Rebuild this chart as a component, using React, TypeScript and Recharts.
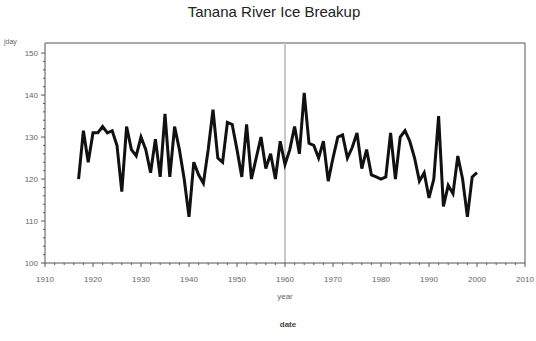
import React from "react";
import {
  LineChart,
  Line,
  XAxis,
  YAxis,
  ReferenceLine,
} from "recharts";

// Julian day of ice breakup, Tanana River at Nenana
const years = [
  1917, 1918, 1919, 1920, 1921, 1922, 1923, 1924, 1925, 1926,
  1927, 1928, 1929, 1930, 1931, 1932, 1933, 1934, 1935, 1936,
  1937, 1938, 1939, 1940, 1941, 1942, 1943, 1944, 1945, 1946,
  1947, 1948, 1949, 1950, 1951, 1952, 1953, 1954, 1955, 1956,
  1957, 1958, 1959, 1960, 1961, 1962, 1963, 1964, 1965, 1966,
  1967, 1968, 1969, 1970, 1971, 1972, 1973, 1974, 1975, 1976,
  1977, 1978, 1979, 1980, 1981, 1982, 1983, 1984, 1985, 1986,
  1987, 1988, 1989, 1990, 1991, 1992, 1993, 1994, 1995, 1996,
  1997, 1998, 1999, 2000,
];
const breakupDay = [
  120, 131.5, 124, 131, 131, 132.5, 131, 131.5, 128, 117,
  132.5, 127, 125.5, 130, 127, 121.5, 129.5, 120.5, 135.5, 120.5,
  132.5, 127, 120, 111, 124, 121, 119, 127, 136.5, 125,
  124, 133.5, 133, 127, 120.5, 133, 120, 125, 130, 122.5,
  126, 120, 129, 123.5, 127, 132.5, 126, 140.5, 128.5, 128,
  125, 129, 119.5, 125, 130, 130.5, 125, 127.5, 131, 122.5,
  127, 121, 120.5, 120, 120.5, 131, 120, 130, 131.5, 129,
  125, 119.5, 121.5, 115.5, 120, 135, 113.5, 118.5, 116.5, 125.5,
  120, 111, 120.5, 121.5,
];
const xTicks = Array.from({ length: 51 }, (_, i) => 1910 + i * 2);
const yTicks = Array.from({ length: 26 }, (_, i) => 100 + i * 2);

const data = years.map((year, i) => ({ year, day: breakupDay[i] }));

const font = "'Liberation Sans', Arial, sans-serif";
const axisColor = "#555";
const yMax = 152.4;

const XTick = (props: any) => {
  const { x, y, payload } = props;
  const major = payload.value % 10 === 0;
  return (
    <g>
      <line x1={x} y1={y} x2={x} y2={y + (major ? 4 : 2)} stroke={axisColor} strokeWidth={1} />
      {major && (
        <text x={x} y={y + 19} textAnchor="middle" fontSize={8} fill="#666" fontFamily={font}>
          {payload.value}
        </text>
      )}
    </g>
  );
};

const YTick = (props: any) => {
  const { x, y, payload } = props;
  const major = payload.value % 10 === 0;
  return (
    <g>
      <line x1={x} y1={y} x2={x - (major ? 4 : 2)} y2={y} stroke={axisColor} strokeWidth={1} />
      {major && (
        <text x={x - 7} y={y + 3} textAnchor="end" fontSize={8} fill="#666" fontFamily={font}>
          {payload.value}
        </text>
      )}
    </g>
  );
};

export default function App() {
  return (
    <div style={{ position: "absolute", left: 0, top: 0, width: 536, height: 341, background: "#fff" }}>
      <div
        style={{
          position: "absolute",
          top: 3,
          left: 0,
          width: 548,
          textAlign: "center",
          fontFamily: font,
          fontSize: 15,
          color: "#222",
        }}
      >
        Tanana River Ice Breakup
      </div>
      <LineChart
        width={536}
        height={341}
        data={data}
        margin={{ top: 43, right: 11, bottom: 48, left: 0 }}
      >
        <XAxis
          dataKey="year"
          type="number"
          domain={[1910, 2010]}
          ticks={xTicks}
          interval={0}
          tick={<XTick />}
          tickLine={false}
          tickSize={0}
          tickMargin={0}
          height={30}
          stroke={axisColor}
          label={{
            value: "year",
            position: "insideBottom",
            offset: -6,
            fontSize: 8,
            fill: "#666",
            fontFamily: font,
          }}
        />
        <YAxis
          type="number"
          domain={[100, yMax]}
          ticks={yTicks}
          interval={0}
          tick={<YTick />}
          tickLine={false}
          tickSize={0}
          tickMargin={0}
          width={45}
          stroke={axisColor}
          label={{
            content: () => (
              <text x={4} y={44} fontSize={7} fill="#666" fontFamily={font}>
                jday
              </text>
            ),
          }}
        />
        {/* frame: top and right edges */}
        <ReferenceLine y={yMax} stroke={axisColor} strokeWidth={1} />
        <ReferenceLine x={2010} stroke={axisColor} strokeWidth={1} />
        <ReferenceLine x={1960} stroke="#c8c8c8" strokeWidth={2} />
        <Line
          dataKey="day"
          type="linear"
          stroke="#111"
          strokeWidth={3}
          dot={false}
          isAnimationActive={false}
        />
      </LineChart>
      <div
        style={{
          position: "absolute",
          top: 320,
          left: 0,
          width: 576,
          textAlign: "center",
          fontFamily: font,
          fontSize: 8,
          fontWeight: "bold",
          color: "#444",
        }}
      >
        date
      </div>
    </div>
  );
}
